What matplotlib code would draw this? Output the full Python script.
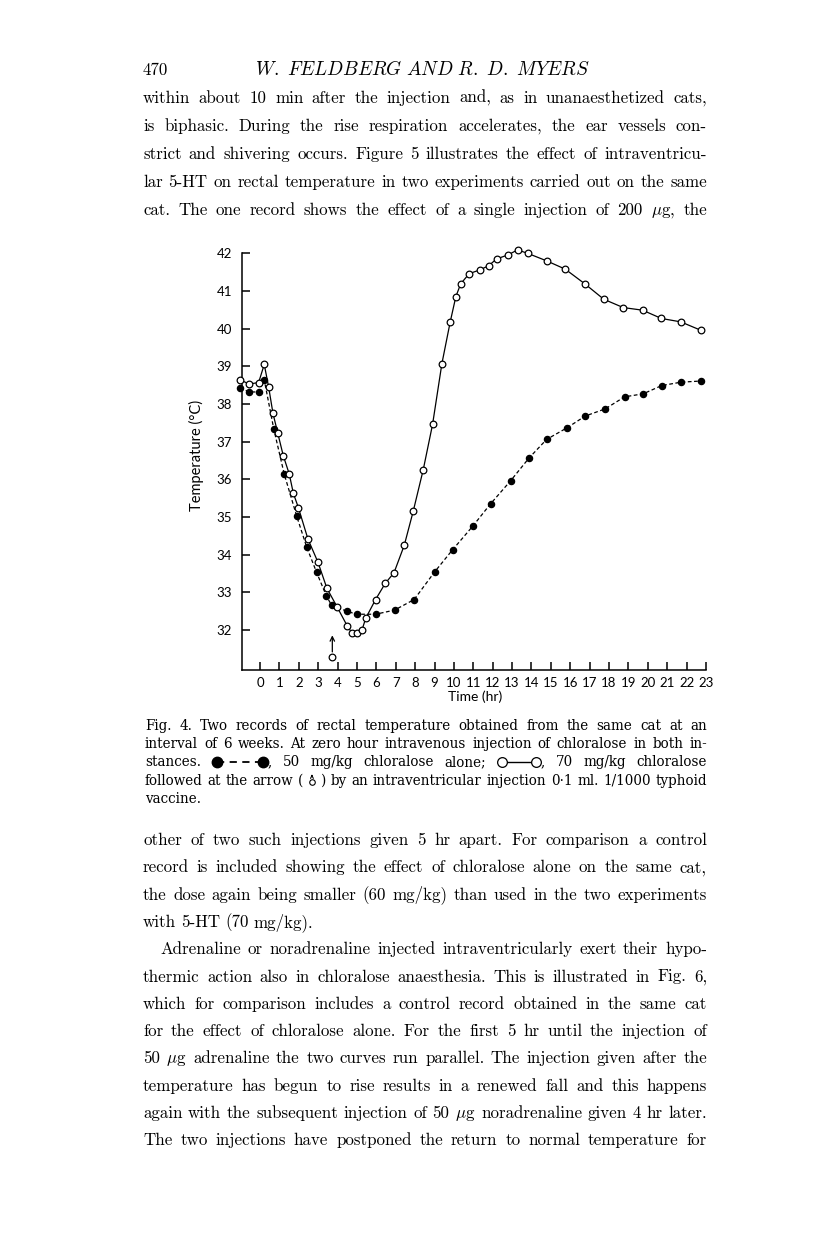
import matplotlib
matplotlib.use("Agg")
import matplotlib.pyplot as plt
from matplotlib.lines import Line2D
from matplotlib.patches import FancyArrowPatch

W, H = 816, 1249
plt.rcParams['mathtext.fontset'] = 'cm'
plt.rcParams['axes.unicode_minus'] = False

# ---- data ----
open_t = [-1.03, -0.55, -0.07, 0.22, 0.45, 0.67, 0.91, 1.2, 1.51, 1.72, 1.98, 2.47,
          2.99, 3.45, 3.97, 4.5, 4.76, 5.0, 5.26, 5.45, 5.96, 6.46, 6.91, 7.44, 7.9,
          8.42, 8.9, 9.38, 9.81, 10.1, 10.35, 10.79, 11.34, 11.79, 12.2, 12.8, 13.28,
          13.8, 14.78, 15.74, 16.75, 17.73, 18.73, 19.73, 20.7, 21.7, 22.72]
open_temp = [38.64, 38.53, 38.57, 39.05, 38.44, 37.75, 37.24, 36.63, 36.14, 35.63, 35.25,
             34.42, 33.80, 33.11, 32.62, 32.11, 31.91, 31.91, 32.0, 32.31, 32.81, 33.24,
             33.52, 34.25, 35.15, 36.26, 37.46, 39.07, 40.18, 40.85, 41.19, 41.46, 41.56,
             41.67, 41.85, 41.96, 42.09, 42.0, 41.80, 41.58, 41.19, 40.78, 40.56, 40.49,
             40.27, 40.18, 39.96]
filled_t = [-1.03, -0.55, -0.07, 0.22, 0.71, 1.25, 1.89, 2.41, 2.92, 3.42, 3.69, 4.48,
            4.98, 5.96, 6.94, 7.95, 9.0, 9.93, 10.96, 11.89, 12.92, 13.88, 14.78, 15.84,
            16.77, 17.8, 18.8, 19.76, 20.72, 21.72, 22.75]
filled_temp = [38.43, 38.32, 38.32, 38.64, 37.34, 36.14, 35.03, 34.2, 33.53, 32.91, 32.66,
               32.5, 32.42, 32.42, 32.53, 32.81, 33.54, 34.13, 34.75, 35.35, 35.96, 36.57,
               37.06, 37.37, 37.68, 37.87, 38.19, 38.27, 38.49, 38.58, 38.61]
arrow_t = 3.73
arrow_temp = 31.28
x_ticks = list(range(0, 24))
y_ticks = list(range(32, 43))

header_page = "470"
header_title = r"$W.\ FELDBERG\ AND\ R.\ D.\ MYERS$"
para_top = [
    "within about 10 min after the injection and, as in unanaesthetized cats,",
    "is biphasic.  During the rise respiration accelerates, the ear vessels con-",
    "strict and shivering occurs.  Figure 5 illustrates the effect of intraventricu-",
    "lar 5-HT on rectal temperature in two experiments carried out on the same",
    r"cat. The one record shows the effect of a single injection of 200 $\mu$g, the",
]
caption = [
    "Fig. 4. Two records of rectal temperature obtained from the same cat at an",
    "interval of 6 weeks.  At zero hour intravenous injection of chloralose in both in-",
    "stances. {FILLED}, 50 mg/kg chloralose alone; {OPEN}, 70 mg/kg chloralose",
    "followed at the arrow ( {ARR} ) by an intraventricular injection 0\u00b71 ml. 1/1000 typhoid",
    "vaccine.",
]
para_mid = [
    "other of two such injections given 5 hr apart.  For comparison a control",
    "record is included showing the effect of chloralose alone on the same cat,",
    "the dose again being smaller (60 mg/kg) than used in the two experiments",
    "with 5-HT (70 mg/kg).",
]
para_bot = [
    "Adrenaline or noradrenaline injected intraventricularly exert their hypo-",
    "thermic action also in chloralose anaesthesia. This is illustrated in Fig. 6,",
    "which for comparison includes a control record obtained in the same cat",
    "for the effect of chloralose alone.  For the first 5 hr until the injection of",
    r"50 $\mu$g adrenaline the two curves run parallel. The injection given after the",
    "temperature has begun to rise results in a renewed fall and this happens",
    r"again with the subsequent injection of 50 $\mu$g noradrenaline given 4 hr later.",
    "The two injections have postponed the return to normal temperature for",
]

SERIF = ['cmr10', 'DejaVu Serif']
CAP = ['DejaVu Serif']
SANS = ['Lato', 'DejaVu Sans']

fig = plt.figure(figsize=(W / 100, H / 100), dpi=100)
renderer = fig.canvas.get_renderer()

# ---- chart ----
ax = fig.add_axes([241.7 / W, 1 - 670 / H, (706 - 241.7) / W, (670 - 253.3) / H])
ax.plot(filled_t, filled_temp, color='black', lw=0.9, ls=(0, (3, 2)),
        marker='o', ms=4.4, mfc='black', mec='black', clip_on=False, zorder=2)
ax.plot(open_t, open_temp, color='black', lw=0.9, ls='-',
        marker='o', ms=4.8, mfc='white', mec='black', mew=0.9, clip_on=False, zorder=3)
ax.plot([arrow_t], [arrow_temp], marker='o', ms=4.8, mfc='white', mec='black', mew=0.9,
        clip_on=False)
ax.annotate('', xy=(arrow_t, 31.86), xytext=(arrow_t, 31.42),
            arrowprops=dict(arrowstyle='->', lw=0.9, color='black',
                            shrinkA=0, shrinkB=0, mutation_scale=8))
ax.set_xlim(-0.943, 23)
ax.set_ylim(30.94, 42)
ax.set_xticks(x_ticks)
ax.set_yticks(y_ticks)
for side in ('top', 'right'):
    ax.spines[side].set_visible(False)
for side in ('left', 'bottom'):
    ax.spines[side].set_linewidth(1.1)
ax.tick_params(direction='in', length=5.5, width=1.1, labelsize=9.5, pad=5)
ax.tick_params(axis='y', pad=7)
for lab in ax.get_xticklabels() + ax.get_yticklabels():
    lab.set_family(SANS)
fig.text(196 / W, 1 - 455 / H, "Temperature (\u00b0C)", rotation=90, ha='center',
         va='center', fontsize=10.5, family=SANS)
fig.text(475 / W, 1 - 697 / H, "Time (hr)", ha='center', va='center',
         fontsize=10, family=SANS)


# ---- page text ----
def fx(x):
    return x / W


def fy(y):
    return 1 - y / H


SPECIAL = {'{FILLED}': 56, '{OPEN}': 44, '{ARR}': 8}


def draw_special(tok, x, y):
    mid = y - 4.5
    if tok == '{FILLED}':
        fig.add_artist(Line2D([fx(x + 5), fx(x + 51)], [fy(mid), fy(mid)], color='black',
                              lw=1.3, ls=(0, (4, 3)), transform=fig.transFigure))
        fig.add_artist(Line2D([fx(x + 5), fx(x + 51)], [fy(mid), fy(mid)], ls='none',
                              marker='o', ms=7.5, color='black', transform=fig.transFigure))
    elif tok == '{OPEN}':
        fig.add_artist(Line2D([fx(x + 5), fx(x + 39)], [fy(mid), fy(mid)], color='black',
                              lw=1.0, marker='o', ms=7, mfc='white', mec='black', mew=0.9,
                              transform=fig.transFigure))
    elif tok == '{ARR}':
        fig.add_artist(Line2D([fx(x + 4)], [fy(y - 3)], marker='o', ms=4, mfc='white',
                              mec='black', mew=0.8, ls='none', transform=fig.transFigure))
        fig.add_artist(FancyArrowPatch(
            (fx(x + 4), fy(y - 5.5)), (fx(x + 4), fy(y - 13)), arrowstyle='->',
            mutation_scale=5, lw=0.8, color='black', transform=fig.transFigure))


def split_word(w):
    for key in SPECIAL:
        if w.startswith(key):
            return key, w[len(key):]
    return None, w


def natural_width(text, size, family):
    words = text.split()
    total = 0
    for w in words:
        sp, rest = split_word(w)
        if sp:
            total += SPECIAL[sp]
        if rest:
            t = fig.text(0, 0, rest, fontsize=size, family=family)
            total += t.get_window_extent(renderer).width
            t.remove()
    return total + (len(words) - 1) * size * 0.3 * 100 / 72


def fit_size(lines, width, size, family):
    widest = max(natural_width(s, size, family) / w for s, w in zip(lines, width))
    return size / widest


def text_line(y, text, x0, x1, size, family, justify=True):
    items = []
    for w in text.split():
        sp, rest = split_word(w)
        width = SPECIAL[sp] if sp else 0
        t = None
        if rest:
            t = fig.text(0, fy(y), rest, fontsize=size, family=family, va='baseline')
            width += t.get_window_extent(renderer).width
        items.append((sp, t, width))
    total = sum(i[2] for i in items)
    if justify and len(items) > 1:
        gap = (x1 - x0 - total) / (len(items) - 1)
    else:
        gap = size * 0.3 * 100 / 72
    x = x0
    for sp, t, width in items:
        if sp:
            draw_special(sp, x, y)
            if t is not None:
                t.set_x(fx(x + SPECIAL[sp]))
        else:
            t.set_x(fx(x))
        x += width + gap


L, R = 143, 707
IND = 17

# body size chosen so the tightest justified line just fits
just_lines = para_top + para_mid[:-1] + para_bot
just_w = [R - L] * len(just_lines)
just_w[len(para_top) + len(para_mid) - 1] = R - L - IND
BODY = fit_size(just_lines, just_w, 12, SERIF) * 0.985
CAPS = fit_size(caption[:-1], [R - 145] * 4, 9, CAP) * 0.985

tt = fig.text(0, 0, header_title, fontsize=12)
title_size = 12 * 335 / tt.get_window_extent(renderer).width
tt.remove()
fig.text(fx(L), fy(75), header_page, fontsize=BODY, family=SERIF, va='baseline')
fig.text(fx(422), fy(75), header_title, fontsize=title_size, ha='center', va='baseline')

for i, s in enumerate(para_top):
    text_line(103 + 28 * i, s, L, R, BODY, SERIF)

for i, s in enumerate(caption):
    text_line(730 + 18.2 * i, s, 145, R, CAPS, CAP, justify=(i < len(caption) - 1))

for i, s in enumerate(para_mid):
    text_line(845 + 27.3 * i, s, L, R, BODY, SERIF, justify=(i < len(para_mid) - 1))

for i, s in enumerate(para_bot):
    x0 = L + IND if i == 0 else L
    text_line(845 + 27.3 * (i + len(para_mid)), s, x0, R, BODY, SERIF)

fig.savefig("out.png", dpi=100)
